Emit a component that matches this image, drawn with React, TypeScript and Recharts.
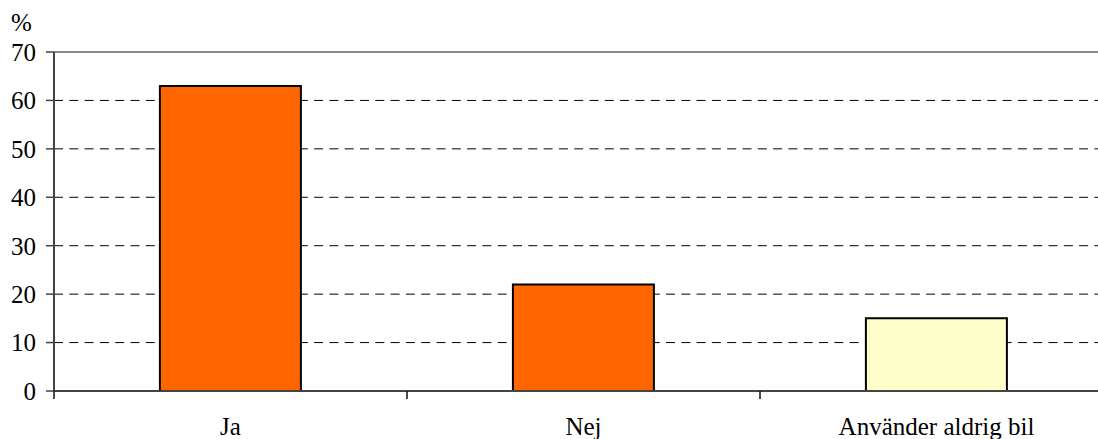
import React from 'react'
import {
  BarChart,
  Bar,
  Cell,
  XAxis,
  YAxis,
  CartesianGrid,
  ReferenceLine,
} from 'recharts'

const categories = ['Ja', 'Nej', 'Använder aldrig bil']
const shares = [63, 22, 15]
const barColors = ['#ff6600', '#ff6600', '#ffffcc']
const yTicks = [0, 10, 20, 30, 40, 50, 60, 70]

const data = categories.map((name, i) => ({ name, value: shares[i] }))

const FONT = "'Liberation Serif', 'Times New Roman', Times, serif"
const CHART_W = 1120
const CHART_H = 439
const MARGIN = { top: 52, right: 7, bottom: 0, left: 0 }
const Y_AXIS_W = 54
const X_AXIS_H = 48
const TICK_SIZE = 8
const X_TICK_MARGIN = 18
const AXIS_COLOR = '#444'

// Excel-style: tick marks sit between categories, not under them
function CategoryTick(props: any) {
  const { x, y, payload } = props
  const plotW = CHART_W - MARGIN.left - MARGIN.right - Y_AXIS_W
  const half = payload?.offset ?? plotW / categories.length / 2
  const lineBottom = y - X_TICK_MARGIN
  const lineTop = lineBottom - TICK_SIZE
  return (
    <g>
      <line
        x1={x - half}
        x2={x - half}
        y1={lineTop}
        y2={lineBottom}
        stroke="#111"
        strokeWidth={1.5}
      />
      <text
        x={x}
        y={y}
        dy="0.71em"
        textAnchor="middle"
        fill="#000"
        fontSize={25}
        style={{ fontFamily: FONT }}
      >
        {payload.value}
      </text>
    </g>
  )
}

function ValueTick(props: any) {
  const { x, y, payload } = props
  return (
    <text
      x={x}
      y={y}
      dy="0.355em"
      textAnchor="end"
      fill="#000"
      fontSize={25}
      style={{ fontFamily: FONT }}
    >
      {payload.value}
    </text>
  )
}

export default function App() {
  return (
    <div
      style={{
        position: 'fixed',
        left: 0,
        top: 0,
        width: 1098,
        height: 439,
        overflow: 'hidden',
        background: '#fff',
        fontFamily: FONT,
      }}
    >
      <div
        style={{
          position: 'absolute',
          left: 11,
          top: 10,
          fontFamily: FONT,
          fontSize: 25,
          lineHeight: '25px',
          color: '#000',
        }}
      >
        %
      </div>
      <BarChart
        width={CHART_W}
        height={CHART_H}
        data={data}
        margin={MARGIN}
        barCategoryGap="30%"
      >
        <CartesianGrid
          horizontal
          vertical={false}
          stroke="#000"
          strokeWidth={1}
          strokeDasharray="9 6.3"
        />
        <ReferenceLine y={70} stroke="#8a8a8a" strokeWidth={2} />
        <XAxis
          dataKey="name"
          height={X_AXIS_H}
          interval={0}
          tickLine={false}
          axisLine={{ stroke: AXIS_COLOR, strokeWidth: 2 }}
          tickMargin={X_TICK_MARGIN}
          tickSize={TICK_SIZE}
          tick={<CategoryTick />}
        />
        <YAxis
          width={Y_AXIS_W}
          domain={[0, 70]}
          ticks={yTicks}
          interval={0}
          tickSize={TICK_SIZE}
          tickMargin={10}
          tickLine={{ stroke: AXIS_COLOR, strokeWidth: 1.5 }}
          axisLine={{ stroke: AXIS_COLOR, strokeWidth: 2 }}
          tick={<ValueTick />}
        />
        <Bar
          dataKey="value"
          stroke="#000"
          strokeWidth={2}
          isAnimationActive={false}
        >
          {data.map((d, i) => (
            <Cell key={d.name} fill={barColors[i]} />
          ))}
        </Bar>
      </BarChart>
    </div>
  )
}
